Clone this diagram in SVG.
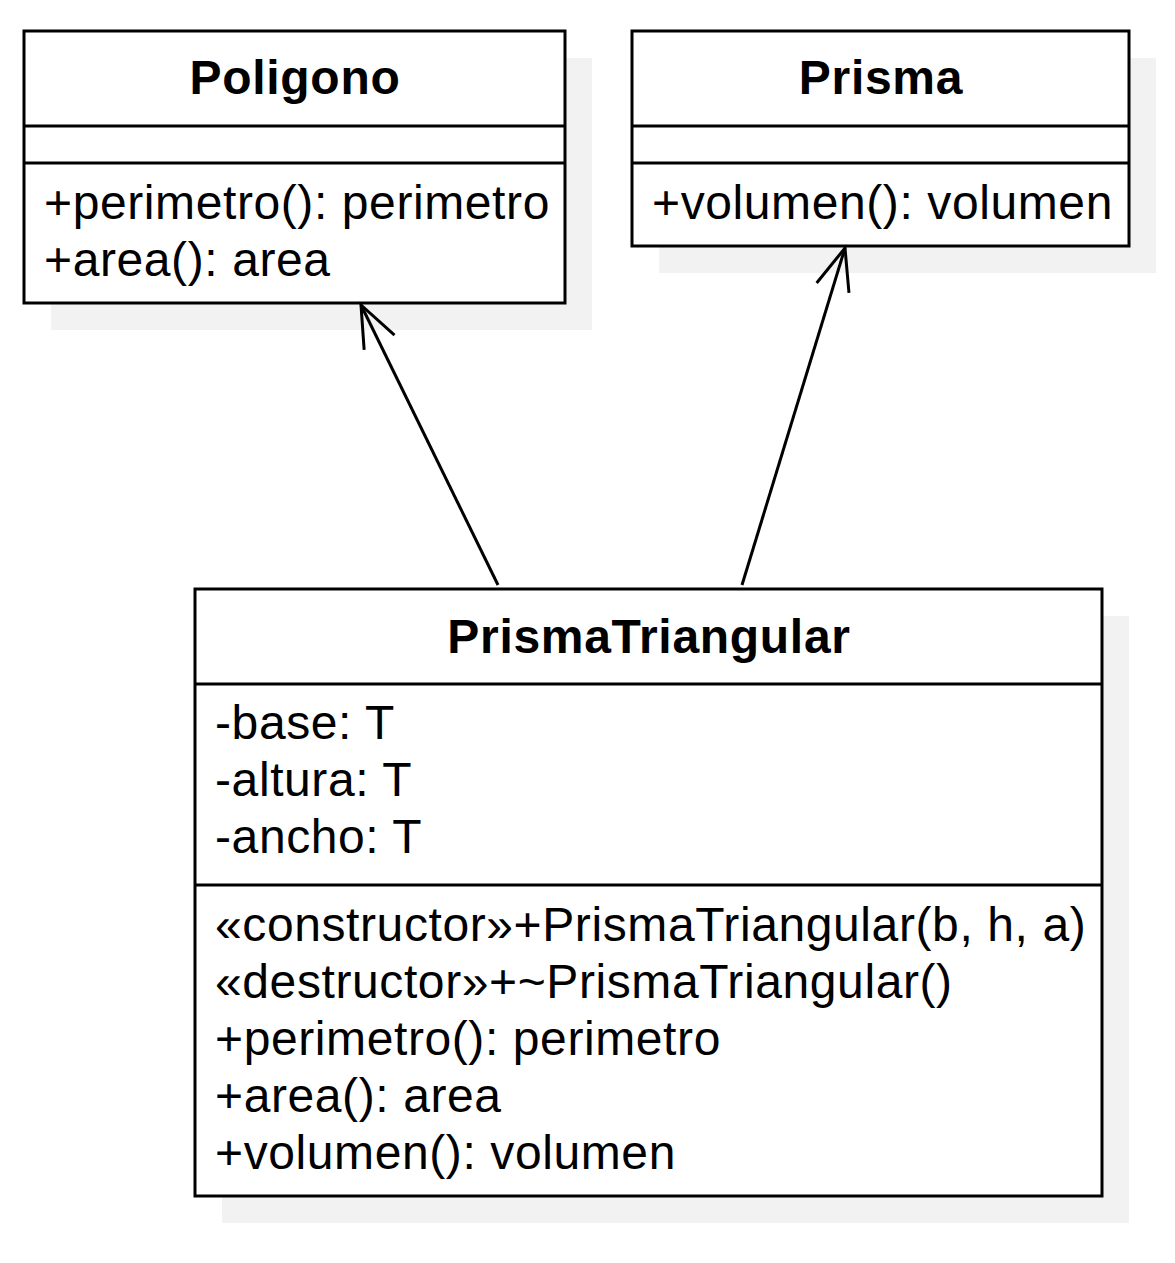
<svg xmlns="http://www.w3.org/2000/svg" width="1175" height="1263" viewBox="0 0 1175 1263">
<style>
.shadow{fill:#f2f2f2;stroke:none}
.box{fill:#ffffff;stroke:#000000;stroke-width:3}
.div{stroke:#000000;stroke-width:3;fill:none}
.t{font-family:"Liberation Sans",Arial,sans-serif;font-size:48px;letter-spacing:0.6px;fill:#000000}
.title{font-family:"Liberation Sans",Arial,sans-serif;font-size:48px;font-weight:bold;letter-spacing:0.7px;fill:#000000;text-anchor:middle}
.edge{stroke:#000000;stroke-width:3;fill:none}
</style>
<defs>
<marker id="open" viewBox="-46 -20 50 40" markerWidth="50" markerHeight="40" refX="0" refY="0" markerUnits="userSpaceOnUse" orient="auto" overflow="visible">
<path d="M -41.7 -16.9 L 0 0 L -41.7 16.9" fill="none" stroke="#000000" stroke-width="3"/>
</marker>
</defs>
<rect width="1175" height="1263" fill="#ffffff"/>
<g id="Poligono">
<rect class="shadow" x="51" y="58" width="541" height="272"/>
<rect class="box" x="24" y="31" width="541" height="272"/>
<line class="div" x1="24" y1="126" x2="565" y2="126"/>
<line class="div" x1="24" y1="163" x2="565" y2="163"/>
<text class="title" x="295" y="94">Poligono</text>
<text class="t" x="44" y="219">+perimetro(): perimetro</text>
<text class="t" x="44" y="276">+area(): area</text>
</g>
<g id="Prisma">
<rect class="shadow" x="659" y="58" width="497" height="215"/>
<rect class="box" x="632" y="31" width="497" height="215"/>
<line class="div" x1="632" y1="126" x2="1129" y2="126"/>
<line class="div" x1="632" y1="163" x2="1129" y2="163"/>
<text class="title" x="881" y="94">Prisma</text>
<text class="t" x="652" y="219">+volumen(): volumen</text>
</g>
<g id="PrismaTriangular">
<rect class="shadow" x="222" y="616" width="907" height="607"/>
<rect class="box" x="195" y="589" width="907" height="607"/>
<line class="div" x1="195" y1="684" x2="1102" y2="684"/>
<line class="div" x1="195" y1="885" x2="1102" y2="885"/>
<text class="title" x="649" y="653">PrismaTriangular</text>
<text class="t" x="215" y="739">-base: T</text>
<text class="t" x="215" y="796">-altura: T</text>
<text class="t" x="215" y="853">-ancho: T</text>
<text class="t" x="215" y="941">«constructor»+PrismaTriangular(b, h, a)</text>
<text class="t" x="215" y="998">«destructor»+~PrismaTriangular()</text>
<text class="t" x="215" y="1055">+perimetro(): perimetro</text>
<text class="t" x="215" y="1112">+area(): area</text>
<text class="t" x="215" y="1169">+volumen(): volumen</text>
</g>
<g id="connectors">
<line class="edge" x1="498" y1="585" x2="361" y2="305" marker-end="url(#open)"/>
<line class="edge" x1="742" y1="585" x2="845" y2="248" marker-end="url(#open)"/>
</g>
</svg>
